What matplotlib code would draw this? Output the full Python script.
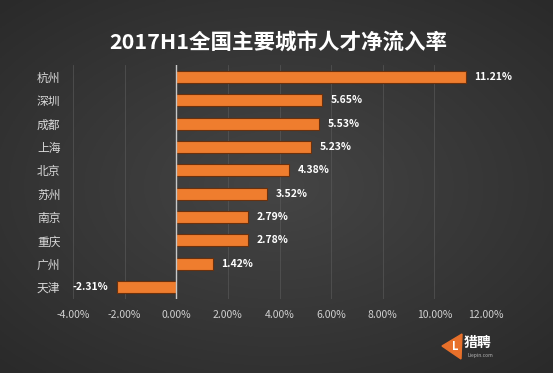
import numpy as np
import matplotlib.pyplot as plt
from matplotlib.patches import Polygon

plt.rcParams['font.family'] = ['Noto Sans CJK SC', 'DejaVu Sans']

cities = ["杭州", "深圳", "成都", "上海", "北京", "苏州", "南京", "重庆", "广州", "天津"]
rates = [11.21, 5.65, 5.53, 5.23, 4.38, 3.52, 2.79, 2.78, 1.42, -2.31]
xticks = [-4, -2, 0, 2, 4, 6, 8, 10, 12]
title = "2017H1全国主要城市人才净流入率"

fig = plt.figure(figsize=(5.53, 3.73), dpi=100)

# dark radial background
bg = fig.add_axes([0, 0, 1, 1], zorder=-10)
yy, xx = np.mgrid[-1:1:200j, -1:1:300j]
r = np.sqrt((xx * 0.85) ** 2 + (yy * 0.9) ** 2)
val = np.clip(0.27 - 0.085 * r, 0, 1)
img = np.dstack([val, val, val])
bg.imshow(img, aspect='auto', extent=[0, 1, 0, 1])
bg.set_axis_off()

ax = fig.add_axes([0.132, 0.199, 0.747, 0.626])
ax.set_facecolor('none')
y = np.arange(len(cities))
ax.barh(y, rates, height=0.52, color='#ef7d2e', edgecolor='#6a300c', linewidth=0.8, zorder=3)
ax.set_ylim(len(cities) - 0.5, -0.5)
ax.set_xlim(-4, 12)

ax.set_xticks(xticks)
ax.set_xticklabels([f"{t:.2f}%" for t in xticks], color='#d0d0d0', fontsize=7.5)
ax.set_yticks(y)
ax.set_yticklabels(cities, color='#d8d8d8', fontsize=8.5)
ax.tick_params(length=0, pad=9)
ax.tick_params(axis='x', pad=8)
for s in ax.spines.values():
    s.set_visible(False)
ax.grid(axis='x', color='#5c5c5c', linewidth=0.6, alpha=0.7, zorder=0)
ax.axvline(0, color='#c8c8c8', linewidth=1.0, zorder=4)

for yi, v in zip(y, rates):
    if v >= 0:
        ax.annotate(f"{v:.2f}%", (v, yi), xytext=(6, 0), textcoords='offset points',
                    ha='left', va='center', color='white', fontsize=7.5, fontweight='bold')
    else:
        ax.annotate(f"{v:.2f}%", (v, yi), xytext=(-6, 0), textcoords='offset points',
                    ha='right', va='center', color='white', fontsize=7.5, fontweight='bold')

fig.text(0.503, 0.884, title, ha='center', va='center', color='white',
         fontsize=15.5, fontweight='bold')

# logo
logo = fig.add_axes([0, 0, 1, 1], zorder=5)
logo.set_xlim(0, 553)
logo.set_ylim(373, 0)
logo.set_axis_off()
logo.add_patch(Polygon([[442, 346], [462, 334], [461, 359]], closed=True, color='#e8702a'))
logo.text(455, 347, "L", color='white', fontsize=8, fontweight='bold', ha='center', va='center')
logo.text(478, 343, "猎聘", color='white', fontsize=10, fontweight='bold', ha='center', va='center')
logo.text(480, 356, "Liepin.com", color='#bbbbbb', fontsize=3.5, ha='center', va='center')

fig.savefig("out.png", dpi=100)
